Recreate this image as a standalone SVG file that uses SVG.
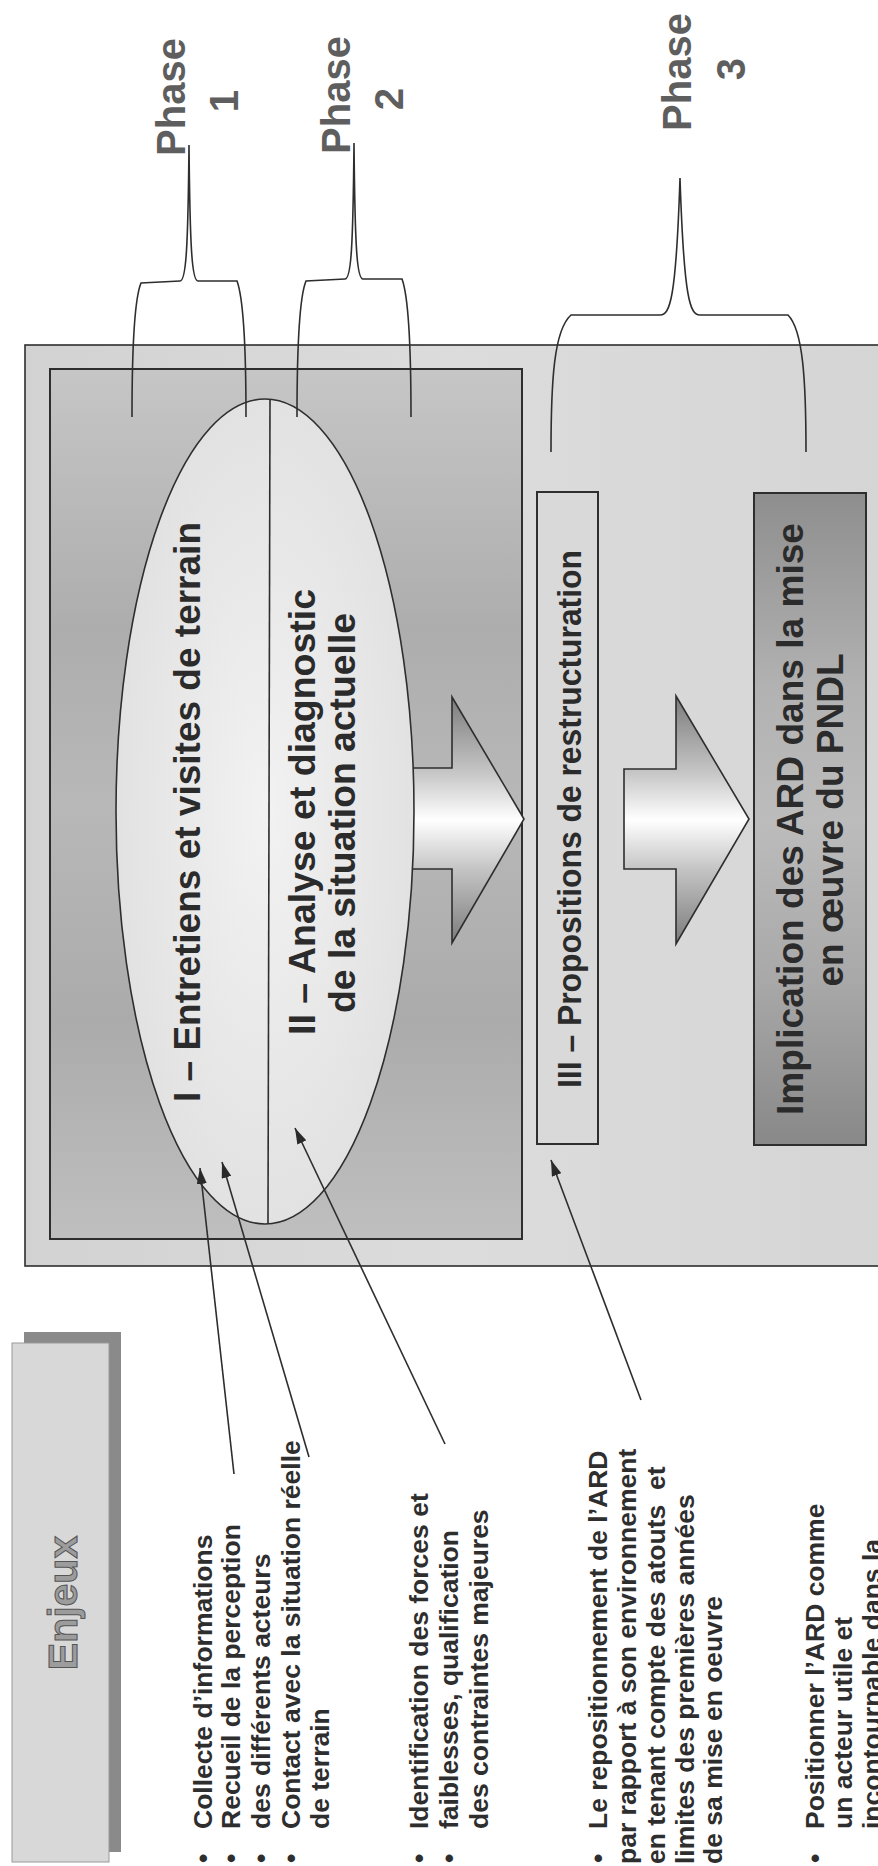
<svg xmlns="http://www.w3.org/2000/svg" width="878" height="1866" viewBox="0 0 878 1866">
<style>
.big{font-family:"Liberation Sans",Arial,sans-serif;font-weight:bold;font-size:37px;fill:#2b2b2b;text-anchor:middle}
.phase{font-family:"Liberation Sans",Arial,sans-serif;font-weight:bold;font-size:40px;fill:#5e5e5e;text-anchor:middle}
.bul{font-family:"Liberation Sans",Arial,sans-serif;font-weight:bold;font-size:26.5px;fill:#2e2e2e}
.brace{fill:none;stroke:#2e2e2e;stroke-width:1.6}
.conn{fill:none;stroke:#2e2e2e;stroke-width:1.6;marker-end:url(#ah)}
.blk{stroke:#2e2e2e;stroke-width:1.6}
</style>
<defs>
<linearGradient id="gOuter" x1="0" y1="0" x2="1" y2="0">
<stop offset="0" stop-color="#d2d2d2"/><stop offset="0.5" stop-color="#dcdcdc"/><stop offset="1" stop-color="#d5d5d5"/>
</linearGradient>
<linearGradient id="gInner" gradientUnits="userSpaceOnUse" x1="0" y1="369" x2="0" y2="1239">
<stop offset="0" stop-color="#c6c6c6"/><stop offset="0.3" stop-color="#adadad"/><stop offset="0.5" stop-color="#b8b8b8"/><stop offset="0.75" stop-color="#ababab"/><stop offset="1" stop-color="#bfbfbf"/>
</linearGradient>
<radialGradient id="gEll" cx="0.5" cy="0.5" r="0.5">
<stop offset="0" stop-color="#f2f2f2"/><stop offset="1" stop-color="#e2e2e2"/>
</radialGradient>
<linearGradient id="gArrow" gradientUnits="userSpaceOnUse" x1="0" y1="697" x2="0" y2="943">
<stop offset="0" stop-color="#7c7c7c"/><stop offset="0.3" stop-color="#c4c4c4"/><stop offset="0.5" stop-color="#ffffff"/><stop offset="0.7" stop-color="#c4c4c4"/><stop offset="1" stop-color="#7c7c7c"/>
</linearGradient>
<linearGradient id="gImpl" gradientUnits="userSpaceOnUse" x1="0" y1="493" x2="0" y2="1146">
<stop offset="0" stop-color="#8e8e8e"/><stop offset="0.3" stop-color="#b2b2b2"/><stop offset="0.5" stop-color="#bcbcbc"/><stop offset="0.75" stop-color="#a8a8a8"/><stop offset="1" stop-color="#888888"/>
</linearGradient>
<marker id="ah" viewBox="0 0 16 10" refX="16" refY="5" markerWidth="16" markerHeight="10" markerUnits="userSpaceOnUse" orient="auto">
<path d="M0,0 L16,5 L0,10 z" fill="#2a2a2a"/>
</marker>
</defs>
<rect width="878" height="1866" fill="#ffffff"/>

<g id="panel">
<rect x="25" y="345" width="870" height="921" fill="url(#gOuter)" stroke="#2e2e2e" stroke-width="1.6"/>
<rect x="50" y="369" width="472" height="870" fill="url(#gInner)" stroke="#2e2e2e" stroke-width="2"/>
</g>

<g id="arrow1">
<path class="blk" d="M380,768 L452,768 L452,697 L524,819 L452,943 L452,869 L380,869 Z" fill="url(#gArrow)"/>
</g>

<g id="ellipse">
<ellipse cx="265" cy="811.5" rx="149" ry="412.5" fill="url(#gEll)" stroke="#2e2e2e" stroke-width="1.6"/>
<line x1="270" y1="399" x2="268" y2="1224" stroke="#2e2e2e" stroke-width="1.6"/>
<text class="big" transform="rotate(-90)" x="-812" y="200" textLength="580" lengthAdjust="spacingAndGlyphs">I – Entretiens et visites de terrain</text>
<text class="big" transform="rotate(-90)" x="-812" y="315" textLength="446" lengthAdjust="spacingAndGlyphs">II – Analyse et diagnostic</text>
<text class="big" transform="rotate(-90)" x="-813" y="355" textLength="400" lengthAdjust="spacingAndGlyphs">de la situation actuelle</text>
</g>

<g id="box3">
<rect x="537" y="492" width="61" height="652" fill="#d9d9d9" stroke="#2e2e2e" stroke-width="2"/>
<text class="big" style="font-size:33px" transform="rotate(-90)" x="-819" y="581" textLength="538" lengthAdjust="spacingAndGlyphs">III – Propositions de restructuration</text>
</g>

<g id="arrow2">
<path class="blk" d="M624,769 L676,769 L676,696 L749,819 L676,944 L676,869 L624,869 Z" fill="url(#gArrow)"/>
</g>

<g id="box4">
<rect x="754" y="493" width="112" height="652" fill="url(#gImpl)" stroke="#2e2e2e" stroke-width="2"/>
<text class="big" transform="rotate(-90)" x="-819" y="803" textLength="592" lengthAdjust="spacingAndGlyphs">Implication des ARD dans la mise</text>
<text class="big" transform="rotate(-90)" x="-820" y="843" textLength="333" lengthAdjust="spacingAndGlyphs">en œuvre du PNDL</text>
</g>

<g id="phase1">
<path class="brace" d="M132,417 C132,350 134,300 141,283 L180,281 C186,281 188,250 189,145 C190,250 192,281 198,281 L237,281 C244,300 246,350 246,417"/>
<text class="phase" transform="rotate(-90)" x="-97" y="185">Phase</text>
<text class="phase" transform="rotate(-90)" x="-101" y="238">1</text>
</g>
<g id="phase2">
<path class="brace" d="M297,417 C297,350 299,298 306,281 L345,279 C351,279 353,250 354,143 C355,250 357,279 363,279 L402,279 C409,298 411,350 411,417"/>
<text class="phase" transform="rotate(-90)" x="-95" y="350">Phase</text>
<text class="phase" transform="rotate(-90)" x="-99" y="403">2</text>
</g>
<g id="phase3">
<path class="brace" d="M551,452 C551,380 554,330 571,315 L660,315 C670,315 676,300 680,178 C684,300 690,315 700,315 L788,315 C803,330 806,380 806,452"/>
<text class="phase" transform="rotate(-90)" x="-72" y="691">Phase</text>
<text class="phase" transform="rotate(-90)" x="-69" y="745">3</text>
</g>

<g id="connectors">
<line class="conn" x1="234" y1="1474" x2="200" y2="1168"/>
<line class="conn" x1="309" y1="1457" x2="222" y2="1162"/>
<line class="conn" x1="445" y1="1444" x2="295" y2="1128"/>
<line class="conn" x1="641" y1="1400" x2="551" y2="1160"/>
</g>

<g id="enjeux">
<rect x="24" y="1332" width="97" height="520" fill="#8a8a8a"/>
<rect x="12" y="1343" width="97" height="519" fill="#d8d8d8" stroke="#9a9a9a" stroke-width="1"/>
<text transform="rotate(-90)" x="-1603" y="77" text-anchor="middle" style="font-family:'Liberation Sans',Arial,sans-serif;font-weight:bold;font-size:41px;fill:#9c9c9c;stroke:#555555;stroke-width:1">Enjeux</text>
</g>

<g id="bullets1">
<text class="bul" transform="rotate(-90)" x="-1863" y="212">•</text>
<text class="bul" transform="rotate(-90)" x="-1863" y="240">•</text>
<text class="bul" transform="rotate(-90)" x="-1863" y="270">•</text>
<text class="bul" transform="rotate(-90)" x="-1863" y="300">•</text>
<text class="bul" transform="rotate(-90)" x="-1829" y="212">Collecte d’informations</text>
<text class="bul" transform="rotate(-90)" x="-1829" y="240">Recueil de la perception</text>
<text class="bul" transform="rotate(-90)" x="-1829" y="270">des différents acteurs</text>
<text class="bul" transform="rotate(-90)" x="-1829" y="300">Contact avec la situation réelle</text>
<text class="bul" transform="rotate(-90)" x="-1829" y="329">de terrain</text>
</g>

<g id="bullets2">
<text class="bul" transform="rotate(-90)" x="-1863" y="428">•</text>
<text class="bul" transform="rotate(-90)" x="-1863" y="458">•</text>
<text class="bul" transform="rotate(-90)" x="-1829" y="428">Identification des forces et</text>
<text class="bul" transform="rotate(-90)" x="-1829" y="458">faiblesses, qualification</text>
<text class="bul" transform="rotate(-90)" x="-1829" y="488">des contraintes majeures</text>
</g>

<g id="bullets3">
<text class="bul" transform="rotate(-90)" x="-1863" y="607">•</text>
<text class="bul" transform="rotate(-90)" x="-1829" y="607">Le repositionnement de l’ARD</text>
<text class="bul" transform="rotate(-90)" x="-1864" y="636">par rapport à son environnement</text>
<text class="bul" transform="rotate(-90)" x="-1864" y="665">en tenant compte des atouts&#160; et</text>
<text class="bul" transform="rotate(-90)" x="-1864" y="694">limites des premières années</text>
<text class="bul" transform="rotate(-90)" x="-1864" y="722">de sa mise en oeuvre</text>
</g>

<g id="bullets4">
<text class="bul" transform="rotate(-90)" x="-1863" y="824">•</text>
<text class="bul" transform="rotate(-90)" x="-1829" y="824">Positionner l’ARD comme</text>
<text class="bul" transform="rotate(-90)" x="-1829" y="852">un acteur utile et</text>
<text class="bul" transform="rotate(-90)" x="-1829" y="881">incontournable dans la</text>
</g>
</svg>
